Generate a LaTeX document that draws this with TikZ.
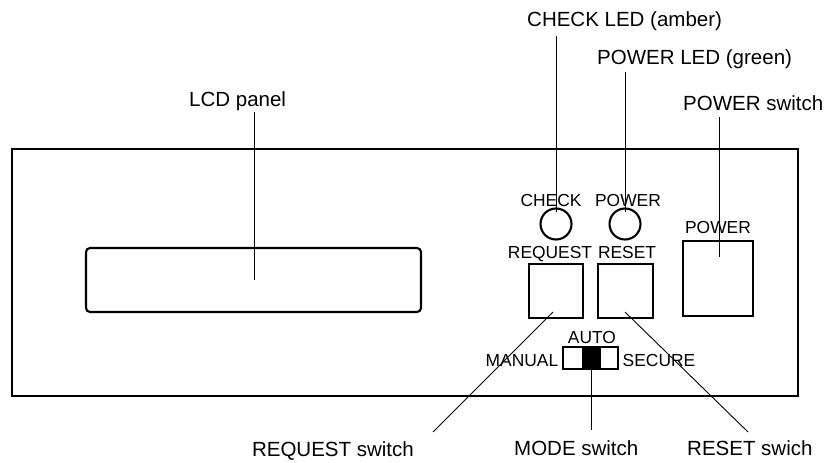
\documentclass[tikz,border=0pt]{standalone}
\usepackage{fontspec}
\setmainfont{Liberation Sans}
\begin{document}
\begin{tikzpicture}[x=1pt,y=-1pt,
  outer/.style={font=\fontsize{20.5}{24}\selectfont, inner sep=0pt},
  inlabel/.style={font=\fontsize{17.4}{20}\selectfont, inner sep=0pt},
  leader/.style={line width=0.9pt},
  frame/.style={line width=2.4pt},
  part/.style={line width=2.1pt}]
\useasboundingbox (0,0) rectangle (830,463);
% housing
\draw[frame] (12,149) rectangle (798,396);
% LCD
\draw[part, rounded corners=4pt] (86,248) rectangle (421,312);
% LEDs
\draw[part] (556,224) circle[radius=15.5];
\draw[part] (625,224) circle[radius=15.5];
% switches
\draw[part] (529,264) rectangle (583,318);
\draw[part] (598,264) rectangle (653,318);
\draw[part] (683,241) rectangle (753,316);
% mode slide switch
\fill (582,347) rectangle (601,369);
\draw[part] (563,347) rectangle (618,369);
% inner labels
\node[inlabel, anchor=base] (tcheck) at (551,206) {CHECK};
\node[inlabel, anchor=base] (tpower) at (628,206) {POWER};
\node[inlabel, anchor=base] (treq) at (550,258) {REQUEST};
\node[inlabel, anchor=base] (treset) at (627,258) {RESET};
\node[inlabel, anchor=base] (tpsw) at (718,233) {POWER};
\node[inlabel, anchor=base] (tauto) at (592,343) {AUTO};
\node[inlabel, anchor=base] (tman) at (522,366) {MANUAL};
\node[inlabel, anchor=base] (tsec) at (659,366) {SECURE};
% outer labels
\node[outer, anchor=base west] (lcheck) at (527,27) {CHECK LED (amber)};
\node[outer, anchor=base west] (lpower) at (597,64) {POWER LED (green)};
\node[outer, anchor=base west] (lpsw) at (683,110) {POWER switch};
\node[outer, anchor=base west] (llcd) at (189,106) {LCD panel};
\node[outer, anchor=base east] (lreq) at (414,456) {REQUEST switch};
\node[outer, anchor=base west] (lmode) at (514,455) {MODE switch};
\node[outer, anchor=base west] (lreset) at (687,455) {RESET swich};
% leader end points
\coordinate (a1) at (254,112); \coordinate (a2) at (254,280);
\coordinate (b1) at (556,36);  \coordinate (b2) at (556,212);
\coordinate (c1) at (625,72);  \coordinate (c2) at (625,212);
\coordinate (d1) at (719,117); \coordinate (d2) at (719,257);
\coordinate (e1) at (553,312); \coordinate (e2) at (433,432);
\coordinate (f1) at (591,369); \coordinate (f2) at (591,430);
\coordinate (g1) at (625,312); \coordinate (g2) at (748,432);
\draw[leader] (a1) -- (a2);
\draw[leader] (b1) -- (b2);
\draw[leader] (c1) -- (c2);
\draw[leader] (d1) -- (d2);
\draw[leader] (e1) -- (e2);
\draw[leader] (f1) -- (f2);
\draw[leader] (g1) -- (g2);
\end{tikzpicture}
\end{document}
